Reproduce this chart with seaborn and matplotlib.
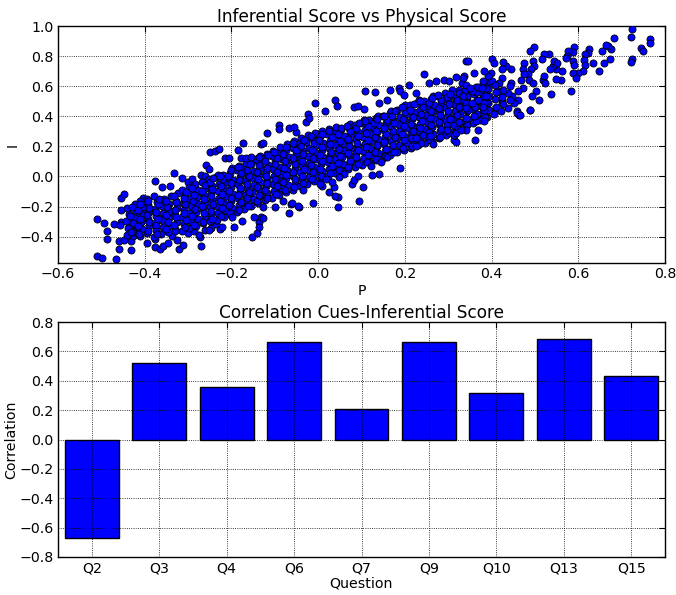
import matplotlib
matplotlib.use("Agg")
import matplotlib.pyplot as plt
import seaborn as sns
import pandas as pd

# ---------------- data: scatter (P, I) ----------------
pts_left = [
    (-0.511, -0.284), (-0.510, -0.531), (-0.499, -0.540), (-0.493, -0.306), (-0.488, -0.363),
    (-0.488, -0.416), (-0.471, -0.318), (-0.466, -0.548), (-0.459, -0.430), (-0.459, -0.480),
    (-0.455, -0.302), (-0.456, -0.322), (-0.454, -0.225), (-0.454, -0.140), (-0.448, -0.114),
    (-0.448, -0.422), (-0.432, -0.293), (-0.431, -0.431), (-0.432, -0.490), (-0.427, -0.393),
    (-0.423, -0.338), (-0.415, -0.360), (-0.412, -0.260), (-0.405, -0.144), (-0.405, -0.178),
    (-0.404, -0.227), (-0.408, -0.304), (-0.394, -0.444), (-0.377, -0.027), (-0.377, -0.416),
    (-0.377, -0.471), (-0.365, -0.482), (-0.358, -0.460), (-0.346, -0.444), (-0.333, 0.022),
    (-0.315, -0.009), (-0.338, -0.393), (-0.321, -0.482), (-0.312, -0.453), (-0.325, -0.422),
    (-0.273, -0.404), (-0.271, -0.460), (-0.250, 0.162), (-0.238, 0.169), (-0.258, 0.073),
    (-0.252, 0.049), (-0.360, -0.070), (-0.342, -0.060), (-0.300, -0.040), (-0.290, -0.020),
    (-0.270, 0.010), (-0.260, 0.000), (-0.300, -0.378), (-0.286, -0.362), (-0.262, -0.355),
    (-0.246, -0.342), (-0.235, -0.318), (-0.227, -0.351), (-0.274, -0.389), (-0.251, -0.356),
    (-0.235, -0.289),
]

pts_mid = [
    (-0.007, 0.489), (0.016, 0.433), (-0.024, 0.418), (-0.028, 0.362), (-0.021, 0.391),
    (-0.090, 0.340), (-0.090, 0.313), (-0.117, 0.291), (-0.067, 0.322), (-0.052, 0.296),
    (-0.055, 0.329), (-0.132, 0.218), (-0.127, 0.222), (-0.173, 0.224), (-0.228, 0.184),
    (-0.214, 0.122), (-0.205, 0.122), (-0.184, 0.173), (-0.178, 0.122), (-0.167, 0.122),
    (-0.155, 0.129), (-0.136, 0.129), (0.045, -0.200), (0.045, -0.138), (-0.012, -0.178),
    (-0.045, -0.200), (-0.067, -0.244), (-0.063, -0.182), (-0.082, -0.164), (-0.099, -0.200),
    (-0.128, -0.204), (-0.136, -0.304), (-0.132, -0.271), (-0.148, -0.267), (-0.176, -0.298),
    (-0.194, -0.333), (-0.198, -0.271), (-0.221, -0.338), (0.010, -0.060), (0.018, -0.016),
    (0.004, -0.049), (-0.034, -0.093), (0.025, -0.104), (0.037, -0.071), (-0.153, -0.404),
    (-0.140, -0.378), (-0.137, -0.333), (-0.128, -0.278), (-0.060, -0.173), (-0.046, -0.196),
    (0.342, 0.767), (0.244, 0.678), (0.209, 0.611), (0.186, 0.589), (0.188, 0.567),
    (0.165, 0.573), (0.132, 0.560), (0.109, 0.567), (0.040, 0.507), (0.044, 0.471),
    (0.082, 0.462), (0.093, 0.471), (0.106, 0.450), (0.140, 0.489), (0.159, 0.511),
    (0.198, 0.544), (0.225, 0.556), (0.255, 0.622), (0.271, 0.633), (0.290, 0.644),
    (0.302, 0.633), (0.317, 0.662), (0.332, 0.622), (0.188, 0.056), (0.159, 0.129),
    (0.144, 0.093), (0.121, 0.071), (0.104, -0.071), (0.094, -0.162), (0.077, -0.049),
    (0.083, -0.022), (0.092, 0.004), (0.059, 0.018), (0.048, -0.004), (0.040, -0.133),
    (0.031, -0.038), (0.140, 0.018), (0.125, 0.011), (0.225, 0.204), (0.226, 0.256),
    (0.259, 0.271), (0.265, 0.218), (0.313, 0.240), (0.314, 0.278), (0.298, 0.311),
    (0.342, 0.307), (0.361, 0.244), (0.318, 0.232), (0.318, 0.287),
]

pts_right = [
    (0.725, 0.978), (0.722, 0.929), (0.765, 0.911), (0.765, 0.884), (0.744, 0.851),
    (0.749, 0.833), (0.725, 0.782), (0.722, 0.760), (0.682, 0.920), (0.676, 0.844),
    (0.668, 0.867), (0.664, 0.875), (0.655, 0.833), (0.672, 0.782), (0.660, 0.751),
    (0.648, 0.700), (0.633, 0.756), (0.625, 0.849), (0.623, 0.822), (0.616, 0.811),
    (0.614, 0.773), (0.616, 0.738), (0.610, 0.700), (0.600, 0.689), (0.589, 0.862),
    (0.587, 0.829), (0.576, 0.833), (0.575, 0.800), (0.572, 0.789), (0.587, 0.767),
    (0.591, 0.744), (0.587, 0.689), (0.595, 0.656), (0.583, 0.571), (0.562, 0.700),
    (0.560, 0.644), (0.548, 0.649), (0.548, 0.711), (0.541, 0.733), (0.534, 0.711),
    (0.532, 0.811), (0.522, 0.811), (0.545, 0.767), (0.550, 0.751), (0.538, 0.551),
    (0.510, 0.511), (0.519, 0.644), (0.522, 0.667), (0.524, 0.618), (0.516, 0.778),
    (0.498, 0.860), (0.488, 0.833), (0.495, 0.767), (0.498, 0.733), (0.491, 0.711),
    (0.483, 0.678), (0.487, 0.644), (0.495, 0.622), (0.502, 0.567), (0.493, 0.533),
    (0.488, 0.444), (0.475, 0.756), (0.472, 0.711), (0.475, 0.678), (0.468, 0.644),
    (0.472, 0.589), (0.460, 0.567), (0.460, 0.511), (0.464, 0.411), (0.458, 0.433),
    (0.452, 0.489), (0.448, 0.533), (0.445, 0.622), (0.445, 0.711), (0.433, 0.733),
    (0.427, 0.760), (0.425, 0.711), (0.425, 0.656), (0.418, 0.622), (0.416, 0.567),
    (0.425, 0.511), (0.425, 0.489), (0.410, 0.444), (0.400, 0.778), (0.405, 0.756),
    (0.398, 0.689), (0.402, 0.633), (0.391, 0.667), (0.383, 0.700), (0.381, 0.633),
    (0.379, 0.589), (0.383, 0.489), (0.381, 0.462), (0.387, 0.533), (0.368, 0.511),
    (0.360, 0.400), (0.383, 0.367), (0.368, 0.311), (0.345, 0.767), (0.360, 0.689),
    (0.337, 0.667), (0.333, 0.656), (0.341, 0.611), (0.356, 0.567), (0.350, 0.589),
    (0.333, 0.533), (0.329, 0.311), (0.341, 0.456), (0.356, 0.489), (0.458, 0.420),
    (0.466, 0.410), (0.489, 0.443), (0.410, 0.443), (0.438, 0.458), (0.442, 0.505),
    (0.439, 0.552), (0.443, 0.599), (0.422, 0.437), (0.426, 0.484), (0.423, 0.531),
    (0.427, 0.578), (0.406, 0.418), (0.410, 0.465), (0.407, 0.512), (0.411, 0.559),
    (0.408, 0.606),
]

pts_core = [
    (-0.441, -0.392), (-0.438, -0.345), (-0.443, -0.298), (-0.436, -0.251), (-0.440, -0.207),
    (-0.426, -0.371), (-0.421, -0.322), (-0.425, -0.274), (-0.420, -0.229), (-0.423, -0.186),
    (-0.410, -0.398), (-0.406, -0.349), (-0.409, -0.300), (-0.404, -0.255), (-0.407, -0.205), (-0.411, -0.162),
    (-0.394, -0.378), (-0.390, -0.330), (-0.393, -0.283), (-0.389, -0.236), (-0.392, -0.190), (-0.395, -0.150),
    (-0.378, -0.401), (-0.374, -0.356), (-0.377, -0.309), (-0.373, -0.262), (-0.376, -0.214), (-0.372, -0.168), (-0.379, -0.132),
    (-0.362, -0.382), (-0.358, -0.336), (-0.361, -0.288), (-0.357, -0.243), (-0.360, -0.195), (-0.356, -0.149),
    (-0.346, -0.372), (-0.342, -0.323), (-0.345, -0.276), (-0.341, -0.229), (-0.344, -0.183), (-0.340, -0.131),
    (-0.330, -0.352), (-0.326, -0.304), (-0.329, -0.257), (-0.325, -0.211), (-0.328, -0.163), (-0.324, -0.110),
    (-0.314, -0.361), (-0.310, -0.315), (-0.313, -0.268), (-0.309, -0.220), (-0.312, -0.174), (-0.308, -0.127), (-0.315, -0.092),
    (-0.298, -0.340), (-0.294, -0.293), (-0.297, -0.246), (-0.293, -0.199), (-0.296, -0.152), (-0.292, -0.104), (-0.299, -0.069),
    (-0.282, -0.327), (-0.278, -0.280), (-0.281, -0.233), (-0.277, -0.186), (-0.280, -0.139), (-0.276, -0.092), (-0.283, -0.053),
    (-0.266, -0.312), (-0.262, -0.265), (-0.265, -0.218), (-0.261, -0.172), (-0.264, -0.124), (-0.260, -0.078), (-0.267, -0.036),
    (-0.250, -0.298), (-0.246, -0.251), (-0.249, -0.204), (-0.245, -0.157), (-0.248, -0.110), (-0.244, -0.063), (-0.251, -0.018),
    (-0.234, -0.287), (-0.230, -0.240), (-0.233, -0.193), (-0.229, -0.146), (-0.232, -0.099), (-0.228, -0.052), (-0.235, -0.006), (-0.231, 0.012),
    (-0.218, -0.271), (-0.214, -0.224), (-0.217, -0.177), (-0.213, -0.130), (-0.216, -0.083), (-0.212, -0.036), (-0.219, 0.011),
    (-0.202, -0.258), (-0.198, -0.211), (-0.201, -0.164), (-0.197, -0.117), (-0.200, -0.070), (-0.196, -0.023), (-0.203, 0.024), (-0.199, 0.055),
    (-0.186, -0.237), (-0.182, -0.190), (-0.185, -0.143), (-0.181, -0.096), (-0.184, -0.049), (-0.180, -0.002), (-0.187, 0.045), (-0.183, 0.072),
    (-0.170, -0.218), (-0.166, -0.171), (-0.169, -0.124), (-0.165, -0.077), (-0.168, -0.030), (-0.164, 0.017), (-0.171, 0.061), (-0.167, 0.088),
    (-0.154, -0.198), (-0.150, -0.151), (-0.153, -0.104), (-0.149, -0.057), (-0.152, -0.010), (-0.148, 0.037), (-0.155, 0.083), (-0.151, 0.112),
    (-0.138, -0.176), (-0.134, -0.129), (-0.137, -0.082), (-0.133, -0.035), (-0.136, 0.012), (-0.132, 0.059), (-0.139, 0.104), (-0.135, 0.133),
    (-0.122, -0.158), (-0.118, -0.111), (-0.121, -0.064), (-0.117, -0.017), (-0.120, 0.030), (-0.116, 0.077), (-0.123, 0.122), (-0.119, 0.152),
    (-0.106, -0.141), (-0.102, -0.094), (-0.105, -0.047), (-0.101, 0.000), (-0.104, 0.047), (-0.100, 0.094), (-0.107, 0.139), (-0.103, 0.172),
    (-0.090, -0.122), (-0.086, -0.075), (-0.089, -0.028), (-0.085, 0.019), (-0.088, 0.066), (-0.084, 0.113), (-0.091, 0.158), (-0.087, 0.196),
    (-0.074, -0.103), (-0.070, -0.056), (-0.073, -0.009), (-0.069, 0.038), (-0.072, 0.085), (-0.068, 0.132), (-0.075, 0.177), (-0.071, 0.215),
    (-0.058, -0.088), (-0.054, -0.041), (-0.057, 0.006), (-0.053, 0.053), (-0.056, 0.100), (-0.052, 0.147), (-0.059, 0.192), (-0.055, 0.236),
    (-0.042, -0.066), (-0.038, -0.019), (-0.041, 0.028), (-0.037, 0.075), (-0.040, 0.122), (-0.036, 0.169), (-0.043, 0.214), (-0.039, 0.255),
    (-0.026, -0.049), (-0.022, -0.002), (-0.025, 0.045), (-0.021, 0.092), (-0.024, 0.139), (-0.020, 0.186), (-0.027, 0.231), (-0.023, 0.274),
    (-0.010, -0.028), (-0.006, 0.019), (-0.009, 0.066), (-0.005, 0.113), (-0.008, 0.160), (-0.004, 0.207), (-0.011, 0.252), (-0.007, 0.291),
    (0.006, -0.012), (0.010, 0.035), (0.007, 0.082), (0.011, 0.129), (0.008, 0.176), (0.012, 0.223), (0.005, 0.268), (0.009, 0.302),
    (0.022, 0.004), (0.026, 0.051), (0.023, 0.098), (0.027, 0.145), (0.024, 0.192), (0.028, 0.239), (0.021, 0.284), (0.025, 0.313),
    (0.038, 0.021), (0.042, 0.068), (0.039, 0.115), (0.043, 0.162), (0.040, 0.209), (0.044, 0.256), (0.037, 0.301), (0.041, 0.327),
    (0.054, 0.036), (0.058, 0.083), (0.055, 0.130), (0.059, 0.177), (0.056, 0.224), (0.060, 0.271), (0.053, 0.316),
    (0.070, 0.048), (0.074, 0.095), (0.071, 0.142), (0.075, 0.189), (0.072, 0.236), (0.076, 0.283), (0.069, 0.328), (0.073, 0.352),
    (0.086, 0.063), (0.090, 0.110), (0.087, 0.157), (0.091, 0.204), (0.088, 0.251), (0.092, 0.298), (0.085, 0.343),
    (0.102, 0.077), (0.106, 0.124), (0.103, 0.171), (0.107, 0.218), (0.104, 0.265), (0.108, 0.312), (0.101, 0.357), (0.105, 0.378),
    (0.118, 0.094), (0.122, 0.141), (0.119, 0.188), (0.123, 0.235), (0.120, 0.282), (0.124, 0.329), (0.117, 0.374),
    (0.134, 0.108), (0.138, 0.155), (0.135, 0.202), (0.139, 0.249), (0.136, 0.296), (0.140, 0.343), (0.133, 0.388), (0.137, 0.403),
    (0.150, 0.123), (0.154, 0.170), (0.151, 0.217), (0.155, 0.264), (0.152, 0.311), (0.156, 0.358), (0.149, 0.403),
    (0.166, 0.142), (0.170, 0.189), (0.167, 0.236), (0.171, 0.283), (0.168, 0.330), (0.172, 0.377), (0.165, 0.422), (0.169, 0.438),
    (0.182, 0.161), (0.186, 0.208), (0.183, 0.255), (0.187, 0.302), (0.184, 0.349), (0.188, 0.396), (0.181, 0.441),
    (0.198, 0.178), (0.202, 0.225), (0.199, 0.272), (0.203, 0.319), (0.200, 0.366), (0.204, 0.413), (0.197, 0.458), (0.201, 0.478),
    (0.214, 0.192), (0.218, 0.239), (0.215, 0.286), (0.219, 0.333), (0.216, 0.380), (0.220, 0.427), (0.213, 0.472),
    (0.230, 0.207), (0.234, 0.254), (0.231, 0.301), (0.235, 0.348), (0.232, 0.395), (0.236, 0.442), (0.229, 0.487), (0.233, 0.508),
    (0.246, 0.223), (0.250, 0.270), (0.247, 0.317), (0.251, 0.364), (0.248, 0.411), (0.252, 0.458), (0.245, 0.503),
    (0.262, 0.238), (0.266, 0.285), (0.263, 0.332), (0.267, 0.379), (0.264, 0.426), (0.268, 0.473), (0.261, 0.518), (0.265, 0.538),
    (0.278, 0.256), (0.282, 0.303), (0.279, 0.350), (0.283, 0.397), (0.280, 0.444), (0.284, 0.491), (0.277, 0.536),
    (0.294, 0.273), (0.298, 0.320), (0.295, 0.367), (0.299, 0.414), (0.296, 0.461), (0.300, 0.508), (0.293, 0.553),
    (0.310, 0.294), (0.314, 0.341), (0.311, 0.388), (0.315, 0.435), (0.312, 0.482), (0.316, 0.529), (0.309, 0.572),
    (0.326, 0.318), (0.330, 0.365), (0.327, 0.412), (0.331, 0.459), (0.328, 0.506), (0.332, 0.553), (0.325, 0.578),
    (0.342, 0.338), (0.346, 0.385), (0.343, 0.432), (0.347, 0.479), (0.344, 0.526), (0.348, 0.573),
    (0.358, 0.357), (0.362, 0.404), (0.359, 0.451), (0.363, 0.498), (0.360, 0.545), (0.364, 0.592),
    (0.374, 0.376), (0.378, 0.423), (0.375, 0.470), (0.379, 0.517), (0.376, 0.564), (0.380, 0.611),
    (0.390, 0.395), (0.394, 0.442), (0.391, 0.489), (0.395, 0.536), (0.392, 0.583), (0.396, 0.630),
]

pts_core2 = [
    (-0.431, -0.370), (-0.428, -0.310), (-0.433, -0.262), (-0.429, -0.200),
    (-0.413, -0.385), (-0.416, -0.330), (-0.411, -0.285), (-0.415, -0.220), (-0.412, -0.180),
    (-0.392, -0.360), (-0.389, -0.305), (-0.394, -0.255), (-0.390, -0.210), (-0.393, -0.165),
    (-0.371, -0.380), (-0.374, -0.325), (-0.369, -0.280), (-0.373, -0.235), (-0.370, -0.180), (-0.367, -0.150),
    (-0.350, -0.350), (-0.347, -0.300), (-0.352, -0.255), (-0.348, -0.205), (-0.351, -0.160),
    (-0.329, -0.365), (-0.332, -0.320), (-0.327, -0.270), (-0.331, -0.225), (-0.328, -0.170), (-0.333, -0.130),
    (-0.308, -0.335), (-0.305, -0.290), (-0.310, -0.240), (-0.306, -0.185), (-0.309, -0.140), (-0.304, -0.100),
    (-0.287, -0.320), (-0.290, -0.265), (-0.285, -0.215), (-0.289, -0.165), (-0.286, -0.120), (-0.291, -0.075),
    (-0.266, -0.300), (-0.263, -0.245), (-0.268, -0.195), (-0.264, -0.150), (-0.267, -0.095), (-0.262, -0.055),
    (-0.245, -0.280), (-0.248, -0.230), (-0.243, -0.180), (-0.247, -0.130), (-0.244, -0.085), (-0.249, -0.040), (-0.242, -0.010),
    (-0.224, -0.265), (-0.221, -0.210), (-0.226, -0.165), (-0.222, -0.115), (-0.225, -0.065), (-0.220, -0.020), (-0.227, 0.005),
    (-0.203, -0.245), (-0.206, -0.190), (-0.201, -0.145), (-0.205, -0.095), (-0.202, -0.045), (-0.207, 0.000), (-0.200, 0.040),
    (-0.182, -0.220), (-0.179, -0.170), (-0.184, -0.125), (-0.180, -0.075), (-0.183, -0.025), (-0.178, 0.020), (-0.185, 0.060),
    (-0.161, -0.195), (-0.164, -0.145), (-0.159, -0.100), (-0.163, -0.050), (-0.160, 0.000), (-0.165, 0.045), (-0.158, 0.085),
    (-0.140, -0.165), (-0.137, -0.120), (-0.142, -0.070), (-0.138, -0.020), (-0.141, 0.030), (-0.136, 0.075), (-0.143, 0.115),
    (-0.119, -0.140), (-0.122, -0.090), (-0.117, -0.045), (-0.121, 0.005), (-0.118, 0.055), (-0.123, 0.100), (-0.116, 0.140),
    (-0.098, -0.115), (-0.095, -0.065), (-0.100, -0.020), (-0.096, 0.030), (-0.099, 0.080), (-0.094, 0.125), (-0.101, 0.165),
    (-0.077, -0.090), (-0.080, -0.040), (-0.075, 0.010), (-0.079, 0.055), (-0.076, 0.105), (-0.081, 0.150), (-0.074, 0.195),
    (-0.056, -0.070), (-0.053, -0.020), (-0.058, 0.030), (-0.054, 0.080), (-0.057, 0.125), (-0.052, 0.175), (-0.059, 0.220),
    (-0.035, -0.045), (-0.038, 0.005), (-0.033, 0.050), (-0.037, 0.100), (-0.034, 0.150), (-0.039, 0.200), (-0.032, 0.245),
    (-0.014, -0.020), (-0.011, 0.030), (-0.016, 0.075), (-0.012, 0.125), (-0.015, 0.175), (-0.010, 0.220), (-0.017, 0.270),
    (0.007, 0.000), (0.004, 0.050), (0.009, 0.100), (0.005, 0.145), (0.008, 0.195), (0.003, 0.240), (0.010, 0.285),
    (0.028, 0.020), (0.031, 0.070), (0.026, 0.115), (0.030, 0.165), (0.027, 0.215), (0.032, 0.260), (0.025, 0.300),
    (0.049, 0.040), (0.046, 0.090), (0.051, 0.135), (0.047, 0.185), (0.050, 0.235), (0.045, 0.280), (0.052, 0.320),
    (0.070, 0.060), (0.073, 0.105), (0.068, 0.155), (0.072, 0.205), (0.069, 0.250), (0.074, 0.300), (0.067, 0.335),
    (0.091, 0.080), (0.088, 0.130), (0.093, 0.175), (0.089, 0.225), (0.092, 0.270), (0.087, 0.320), (0.094, 0.355),
    (0.112, 0.095), (0.115, 0.145), (0.110, 0.195), (0.114, 0.240), (0.111, 0.290), (0.116, 0.335), (0.109, 0.370),
    (0.133, 0.115), (0.130, 0.165), (0.135, 0.210), (0.131, 0.260), (0.134, 0.305), (0.129, 0.355), (0.136, 0.385),
    (0.154, 0.135), (0.157, 0.185), (0.152, 0.230), (0.156, 0.280), (0.153, 0.325), (0.158, 0.375), (0.151, 0.405),
    (0.175, 0.165), (0.172, 0.210), (0.177, 0.260), (0.173, 0.305), (0.176, 0.355), (0.171, 0.400), (0.178, 0.435),
    (0.196, 0.190), (0.199, 0.240), (0.194, 0.285), (0.198, 0.335), (0.195, 0.380), (0.200, 0.430), (0.193, 0.460),
    (0.217, 0.205), (0.214, 0.255), (0.219, 0.300), (0.215, 0.350), (0.218, 0.395), (0.213, 0.445), (0.220, 0.480),
    (0.238, 0.225), (0.241, 0.275), (0.236, 0.320), (0.240, 0.370), (0.237, 0.415), (0.242, 0.465), (0.235, 0.500),
    (0.259, 0.245), (0.256, 0.295), (0.261, 0.340), (0.257, 0.390), (0.260, 0.435), (0.255, 0.485), (0.262, 0.520),
    (0.280, 0.265), (0.283, 0.315), (0.278, 0.360), (0.282, 0.410), (0.279, 0.455), (0.284, 0.505), (0.277, 0.540),
    (0.301, 0.290), (0.298, 0.340), (0.303, 0.385), (0.299, 0.435), (0.302, 0.480), (0.297, 0.525), (0.304, 0.550),
    (0.322, 0.315), (0.325, 0.365), (0.320, 0.410), (0.324, 0.460), (0.321, 0.505), (0.326, 0.555),
    (0.343, 0.345), (0.340, 0.390), (0.345, 0.440), (0.341, 0.485), (0.344, 0.535), (0.339, 0.575),
    (0.364, 0.370), (0.367, 0.415), (0.362, 0.465), (0.366, 0.510), (0.363, 0.560), (0.368, 0.595),
    (0.385, 0.395), (0.382, 0.440), (0.387, 0.490), (0.383, 0.535), (0.386, 0.585), (0.381, 0.615),
]

all_pts = pts_left + pts_core + pts_core2 + pts_mid + pts_right
P = [p for p, _ in all_pts]
I = [i for _, i in all_pts]

# ---------------- data: bar chart ----------------
questions = ["Q2", "Q3", "Q4", "Q6", "Q7", "Q9", "Q10", "Q13", "Q15"]
correlation = [-0.67, 0.52, 0.36, 0.665, 0.21, 0.665, 0.315, 0.685, 0.43]

x_ticks_top = [-0.6, -0.4, -0.2, 0.0, 0.2, 0.4, 0.6, 0.8]
y_ticks_top = [-0.4, -0.2, 0.0, 0.2, 0.4, 0.6, 0.8, 1.0]
y_ticks_bot = [-0.8, -0.6, -0.4, -0.2, 0.0, 0.2, 0.4, 0.6, 0.8]

# ---------------- style ----------------
sns.set_style("white")
plt.rcParams["font.family"] = ["DejaVu Sans"]
plt.rcParams["axes.edgecolor"] = "black"
plt.rcParams["axes.linewidth"] = 1.0
plt.rcParams["text.color"] = "black"
plt.rcParams["axes.labelcolor"] = "black"
plt.rcParams["axes.titlecolor"] = "black"
plt.rcParams["xtick.color"] = "black"
plt.rcParams["ytick.color"] = "black"

TICK_FS = 10.2
LABEL_FS = 10.2
TITLE_FS = 12.2

fig = plt.figure(figsize=(6.76, 5.95), dpi=100)
ax1 = fig.add_axes([58 / 676, (595 - 263) / 595, 607 / 676, 237 / 595])
ax2 = fig.add_axes([58 / 676, (595 - 557) / 595, 607 / 676, 235 / 595])

def style_axes(ax):
    ax.grid(True, color="black", linestyle=":", linewidth=0.6)
    ax.set_axisbelow(False)
    ax.tick_params(direction="in", top=True, right=True, length=4, width=0.8,
                   labelsize=TICK_FS, colors="black", pad=3)
    for s in ax.spines.values():
        s.set_visible(True)
        s.set_color("black")
        s.set_linewidth(1.0)

# top scatter
sns.scatterplot(x=P, y=I, ax=ax1, color="blue", edgecolor="black",
                s=26, linewidth=0.6, zorder=3)
ax1.set_xlim(-0.6, 0.8)
ax1.set_ylim(-0.575, 1.0)
ax1.set_xticks(x_ticks_top)
ax1.set_yticks(y_ticks_top)
ax1.set_xlabel("P", fontsize=LABEL_FS, labelpad=2, color="black")
ax1.set_ylabel("I", fontsize=LABEL_FS, labelpad=0, color="black")
ax1.set_title("Inferential Score vs Physical Score", fontsize=TITLE_FS, pad=3, color="black")
style_axes(ax1)

# bottom bars
df = pd.DataFrame({"Question": questions, "Correlation": correlation})
sns.barplot(data=df, x="Question", y="Correlation", ax=ax2, color="blue",
            saturation=1, edgecolor="black", linewidth=1.0, width=0.8,
            errorbar=None, zorder=1)
ax2.set_xlim(-0.5, len(questions) - 0.5)
ax2.set_ylim(-0.8, 0.8)
ax2.set_yticks(y_ticks_bot)
ax2.set_xlabel("Question", fontsize=LABEL_FS, labelpad=1, color="black")
ax2.set_ylabel("Correlation", fontsize=LABEL_FS, labelpad=1, color="black")
ax2.set_title("Correlation Cues-Inferential Score", fontsize=TITLE_FS, pad=3, color="black")
style_axes(ax2)

fig.savefig("out.png", dpi=100)
